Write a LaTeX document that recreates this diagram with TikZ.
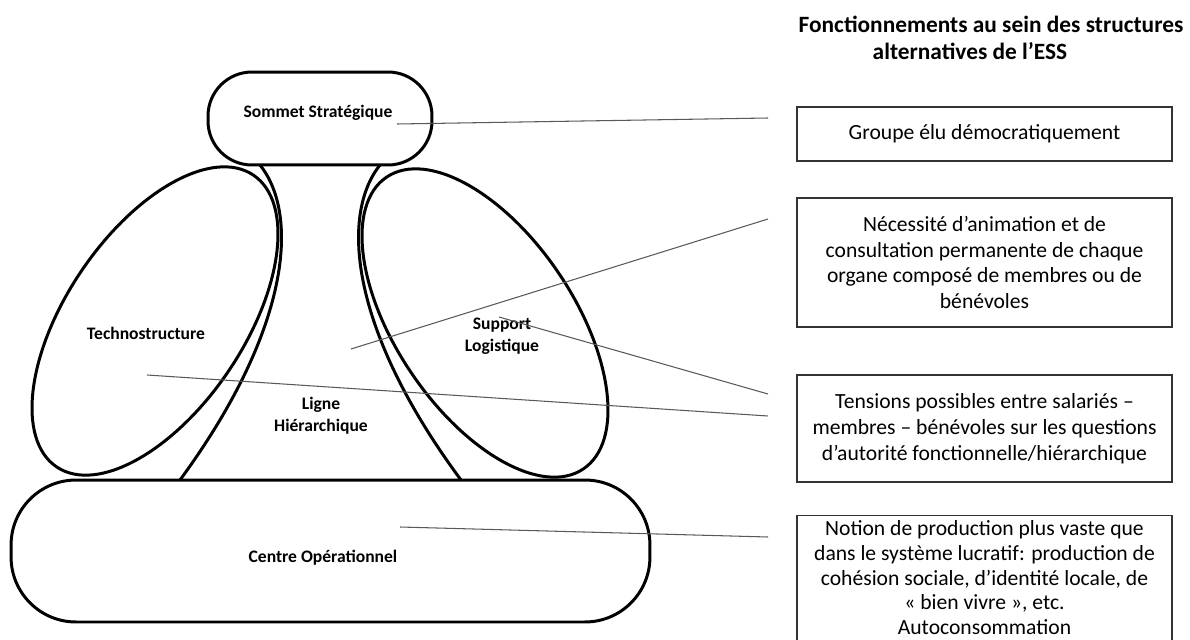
\documentclass[tikz,border=0pt]{standalone}
\usepackage{fontspec}
\setmainfont{Carlito}
\usetikzlibrary{shapes.geometric, positioning}

\begin{document}
\begin{tikzpicture}[x=0.02cm, y=-0.02cm,
    organe/.style={draw, line width=1.7pt},
    lobe/.style={organe, ellipse, inner sep=0pt, minimum width=7.04cm, minimum height=3.56cm},
    etiquette/.style={font=\fontsize{10}{12.5}\selectfont\bfseries, align=center},
    renvoi/.style={draw=black!65, line width=0.6pt},
    cadre/.style={draw=black!80, line width=0.8pt, minimum width=7.5cm, align=center,
        font=\fontsize{12.3}{14.7}\selectfont}]
    \useasboundingbox (0,0) rectangle (1190,639);

    % la configuration
    \node[organe, rounded corners=0.88cm, minimum width=4.48cm, minimum height=1.86cm] (sommet) at (320,118.5) {};
    \node[lobe, rotate=56] (techno) at (155,321) {};
    \node[lobe, rotate=-56] (support) at (485,323) {};
    \node[organe, rounded corners=1.3cm, minimum width=12.78cm, minimum height=2.84cm] (centre) at (330.5,551) {};
    \draw[organe] (260,165) .. controls (300,215) and (290,330) .. (180,480);
    \draw[organe] (380,165) .. controls (340,215) and (350,330) .. (461,480);

    \node[etiquette] (l-sommet) at (318,113) {Sommet Stratégique};
    \node[etiquette] (l-techno) at (146,333) {Technostructure};
    \node[etiquette] (l-support) at (502,336) {Support\\Logistique};
    \node[etiquette] (l-ligne) at (321,416) {Ligne\\Hiérarchique};
    \node[etiquette] (l-centre) at (323,558) {Centre Opérationnel};

    % les fonctionnements
    \node[font=\fontsize{13.3}{15.4}\selectfont\bfseries, align=center] (titre) at (991,38)
        {Fonctionnements au sein des structures\\alternatives de l’ESS\hspace*{1.8em}};
    \node[cadre, minimum height=1.08cm] (b1) at (984.5,134) {Groupe élu démocratiquement};
    \node[cadre, minimum height=2.58cm] (b2) at (984.5,262.5)
        {Nécessité d’animation et de\\consultation permanente de chaque\\organe composé de membres ou de\\bénévoles};
    \node[cadre, minimum height=2.14cm] (b3) at (984.5,428.5)
        {Tensions possibles entre salariés –\\membres – bénévoles sur les questions\\d’autorité fonctionnelle/hiérarchique};
    \node[cadre, anchor=north, inner ysep=2.5pt, font=\fontsize{12.3}{14.2}\selectfont] (b4) at (984.5,515)
        {Notion de production plus vaste que\\dans le système lucratif: production de\\cohésion sociale, d’identité locale, de\\« bien vivre », etc.\\Autoconsommation\\[8pt]};

    % les renvois
    \coordinate (p1) at (397,124);
    \coordinate (p2) at (351,349);
    \coordinate (p3) at (499,317);
    \coordinate (p4) at (147,375);
    \coordinate (p5) at (400,527);
    \coordinate (r1) at (768,118);
    \coordinate (r2) at (768,219);
    \coordinate (r3) at (768,394);
    \coordinate (r4) at (768,416);
    \coordinate (r5) at (768,537);
    \foreach \i in {1,...,5}
        \draw[renvoi] (p\i) -- (r\i);
\end{tikzpicture}
\end{document}
